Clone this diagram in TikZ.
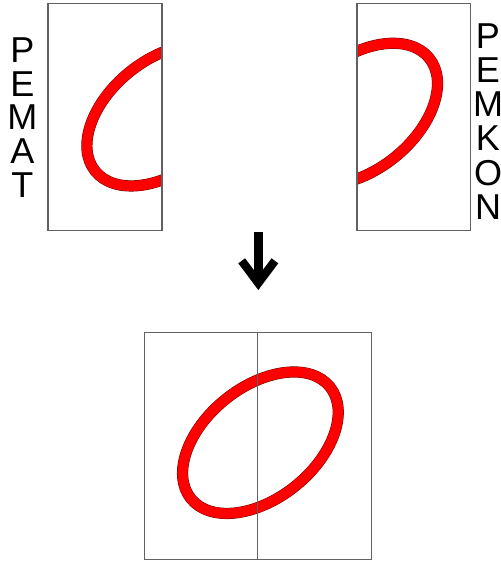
\documentclass[tikz,border=0pt]{standalone}
\usepackage{fontspec}
\setmainfont{Liberation Sans}
\begin{document}
\begin{tikzpicture}[x=1pt,y=-1pt,
  frame/.style={draw=black!62, line width=1.1pt},
  ring/.style={draw=red!45!black, line width=0.5pt, double=red, double distance=10.2pt},
  letter/.style={anchor=base, inner sep=0pt, font=\fontsize{36}{36}\selectfont},
  arrowline/.style={draw=black, line width=8.4pt, line join=miter, miter limit=10}]
\useasboundingbox (0,0) rectangle (501,563);
% top-left
\begin{scope}
  \clip (48,3.5) rectangle (162,230.5);
  \begin{scope}[shift={(164.7,115.2)}, rotate=38.75]
    \draw[ring] (0,0) ellipse [x radius=89.2, y radius=55.7];
  \end{scope}
\end{scope}
\draw[frame] (48,3.5) rectangle (162,230.5);
% top-right
\begin{scope}
  \clip (357,3.5) rectangle (470.7,230.5);
  \begin{scope}[shift={(359.7,114)}, rotate=38.75]
    \draw[ring] (0,0) ellipse [x radius=89.2, y radius=55.7];
  \end{scope}
\end{scope}
\draw[frame] (357,3.5) rectangle (470.7,230.5);
% bottom
\begin{scope}[shift={(260.4,442.7)}, rotate=38.75]
  \draw[ring] (0,0) ellipse [x radius=89.2, y radius=55.7];
\end{scope}
\draw[frame] (144.3,332.8) rectangle (257.7,559.3);
\draw[frame] (257.7,332.8) rectangle (371.7,559.3);
% arrow
\coordinate (atop) at (258.3,232);
\coordinate (ajoin) at (258.3,283);
\coordinate (wl) at (241.7,260.8);
\coordinate (wr) at (274.9,260.8);
\draw[arrowline] (atop) -- (ajoin);
\draw[arrowline] (wl) -- (ajoin) -- (wr);
% letters
\foreach \ch/\yy [count=\i] in {P/62.7,E/96.3,M/129.9,A/163.5,T/197.1}
  \node[letter] (l\i) at (22.3,\yy) {\ch};
\foreach \ch/\yy [count=\i] in {P/48.3,E/82.5,M/116.7,K/150.9,O/185.1,N/219.3}
  \node[letter] (r\i) at (488,\yy) {\ch};
\end{tikzpicture}
\end{document}
